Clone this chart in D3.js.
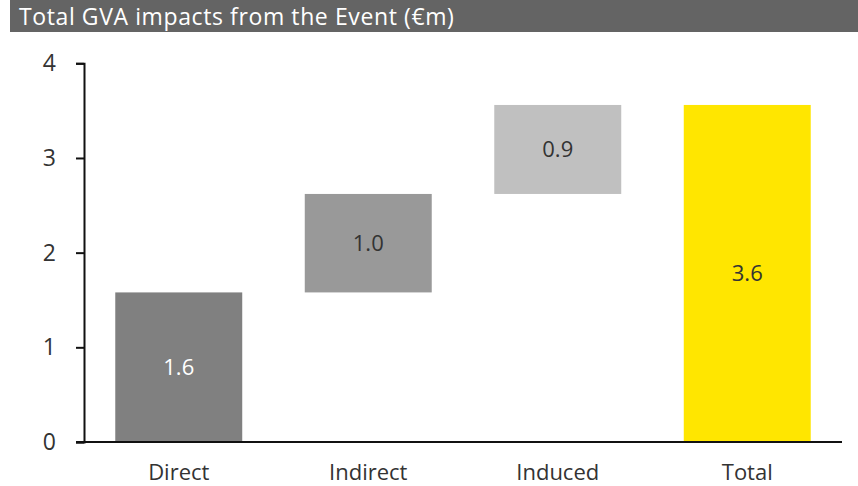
<!DOCTYPE html>
<html>
<head>
<meta charset="utf-8">
<script src="https://cdn.jsdelivr.net/npm/d3@7"></script>
<style>
  html, body { margin: 0; padding: 0; background: #fff; }
  svg { display: block; font-family: "Open Sans", "Noto Sans", sans-serif; }
</style>
</head>
<body>
<svg id="chart" width="858" height="486"></svg>
<script>
// Waterfall of GVA impacts (€m)
const categories = ["Direct", "Indirect", "Induced", "Total"];
const values = [1.58, 1.04, 0.94, 3.56];
const isTotal = [false, false, false, true];
const barColors = ["#808080", "#999999", "#c0c0c0", "#ffe600"];
const yTicks = [0, 1, 2, 3, 4];
const title = "Total GVA impacts from the Event (€m)";

// Build stacked start/end positions for the waterfall
let running = 0;
const bars = categories.map((c, i) => {
  let y0, y1;
  if (isTotal[i]) { y0 = 0; y1 = values[i]; }
  else { y0 = running; y1 = running + values[i]; running = y1; }
  return { cat: c, value: values[i], y0, y1, color: barColors[i] };
});

const svg = d3.select("#chart");
const W = 858, H = 486;

// Title band
svg.append("rect")
  .attr("x", 10).attr("y", 0).attr("width", W - 10).attr("height", 32)
  .attr("fill", "#646464");
svg.append("text")
  .attr("x", 19).attr("y", 25)
  .attr("fill", "#ffffff")
  .attr("font-size", 23)
  .attr("letter-spacing", 0.6)
  .text(title);

const x = d3.scaleBand()
  .domain(categories)
  .range([84, 842])
  .paddingInner(0.33)
  .paddingOuter(0.165);

const y = d3.scaleLinear()
  .domain([0, 4])
  .range([442, 63.3]);

// Bars
svg.append("g").selectAll("rect")
  .data(bars)
  .join("rect")
  .attr("x", d => x(d.cat))
  .attr("width", x.bandwidth())
  .attr("y", d => y(d.y1))
  .attr("height", d => y(d.y0) - y(d.y1))
  .attr("fill", d => d.color);

// Value labels centred in each bar
const fmt = d3.format(".1f");
svg.append("g").selectAll("text")
  .data(bars)
  .join("text")
  .attr("x", d => x(d.cat) + x.bandwidth() / 2)
  .attr("y", d => (y(d.y0) + y(d.y1)) / 2)
  .attr("dy", "0.35em")
  .attr("text-anchor", "middle")
  .attr("font-size", 22)
  .attr("fill", d => d.cat === "Direct" ? "#ffffff" : "#333333")
  .text(d => fmt(d.value));

// Y axis
const yAxis = svg.append("g")
  .attr("transform", "translate(84,0)")
  .call(d3.axisLeft(y).tickValues(yTicks).tickFormat(d3.format("d")).tickSizeOuter(0).tickSize(8).tickPadding(20));
yAxis.select(".domain").attr("stroke", "#111").attr("stroke-width", 2);
yAxis.selectAll(".tick line").attr("stroke", "#111").attr("stroke-width", 2);
yAxis.selectAll(".tick text")
  .attr("font-size", 23)
  .attr("fill", "#333")
  .attr("font-family", "Open Sans, sans-serif");

// X axis
const xAxis = svg.append("g")
  .attr("transform", "translate(0,442)")
  .call(d3.axisBottom(x).tickSize(0).tickSizeOuter(0).tickPadding(22));
xAxis.select(".domain").remove();
xAxis.append("line")
  .attr("x1", 76).attr("x2", 842)
  .attr("y1", 0).attr("y2", 0)
  .attr("stroke", "#111").attr("stroke-width", 2);
xAxis.selectAll(".tick text")
  .attr("font-size", 22)
  .attr("fill", "#333")
  .attr("font-family", "Open Sans, sans-serif");
</script>
</body>
</html>
